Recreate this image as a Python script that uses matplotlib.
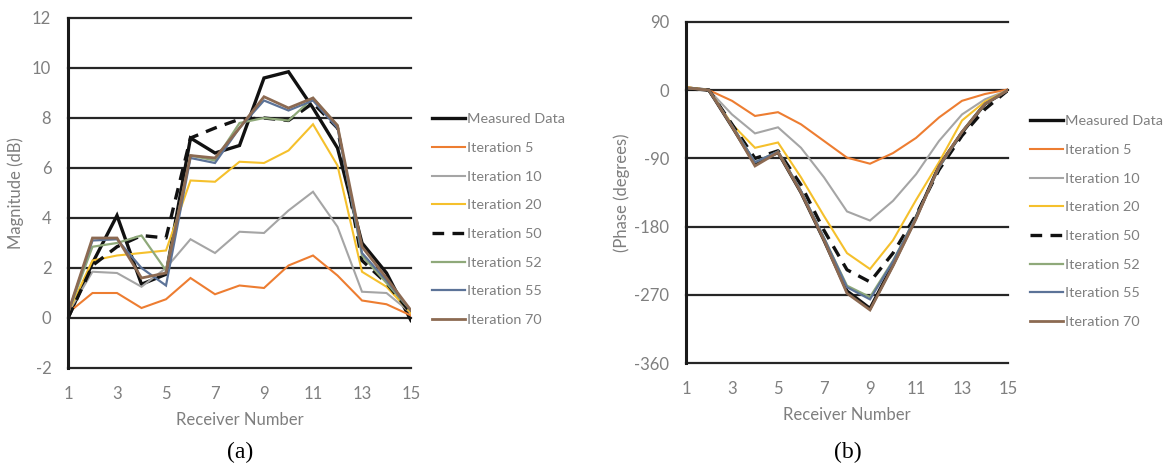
'''
Magnitude and phase per receiver, measured data vs. iterations
'''
import matplotlib
matplotlib.use('Agg')
import matplotlib.pyplot as plt

receivers = list(range(1, 16))

series_names = ['Measured Data', 'Iteration 5', 'Iteration 10', 'Iteration 20',
                'Iteration 50', 'Iteration 52', 'Iteration 55', 'Iteration 70']

# Magnitude (dB), panel (a)
mag_measured = [0.0, 2.2, 4.1, 1.35, 1.75, 7.2, 6.6, 6.9, 9.6, 9.85, 8.4, 6.8, 3.0, 1.8, -0.1]
mag_it5      = [0.2, 1.0, 1.0, 0.4, 0.75, 1.6, 0.95, 1.3, 1.2, 2.1, 2.5, 1.7, 0.7, 0.55, 0.1]
mag_it10     = [0.2, 1.85, 1.8, 1.25, 2.0, 3.15, 2.6, 3.45, 3.4, 4.3, 5.05, 3.65, 1.05, 1.0, 0.2]
mag_it20     = [0.2, 2.3, 2.5, 2.6, 2.7, 5.5, 5.45, 6.25, 6.2, 6.7, 7.75, 6.1, 1.85, 1.25, 0.2]
mag_it50     = [0.0, 2.1, 2.85, 3.3, 3.2, 7.2, 7.6, 7.95, 8.0, 7.9, 8.6, 7.6, 2.3, 1.4, 0.2]
mag_it52     = [0.2, 2.85, 3.0, 3.3, 1.9, 6.5, 6.3, 7.8, 8.0, 7.9, 8.8, 7.7, 2.5, 1.4, 0.3]
mag_it55     = [0.2, 3.1, 3.15, 2.0, 1.3, 6.4, 6.2, 7.6, 8.7, 8.3, 8.7, 7.6, 2.6, 1.5, 0.3]
mag_it70     = [0.2, 3.2, 3.2, 1.6, 1.8, 6.5, 6.4, 7.6, 8.85, 8.4, 8.8, 7.7, 2.85, 1.6, 0.3]

# Phase (degrees), panel (b)
ph_measured = [3, 0, -48, -97, -82, -135, -198, -265, -288, -230, -168, -100, -56, -18, 0]
ph_it5      = [4, 0, -14, -34, -29, -45, -67, -89, -97, -83, -63, -36, -14, -5, 1]
ph_it10     = [4, 0, -32, -57, -49, -76, -115, -160, -172, -146, -111, -67, -32, -12, 0]
ph_it20     = [4, 0, -45, -76, -69, -115, -166, -215, -236, -198, -145, -95, -40, -15, 0]
ph_it50     = [2, 0, -45, -90, -80, -125, -185, -237, -253, -215, -165, -105, -60, -25, 0]
ph_it52     = [3, 0, -47, -95, -81, -133, -195, -258, -273, -225, -168, -102, -55, -18, 0]
ph_it55     = [3, 0, -47, -95, -81, -133, -195, -260, -276, -226, -168, -102, -55, -18, 0]
ph_it70     = [3, 0, -48, -100, -82, -135, -198, -268, -290, -232, -170, -100, -55, -18, 0]

mag_series = [mag_measured, mag_it5, mag_it10, mag_it20, mag_it50, mag_it52, mag_it55, mag_it70]
ph_series  = [ph_measured, ph_it5, ph_it10, ph_it20, ph_it50, ph_it52, ph_it55, ph_it70]

styles = [
    dict(color='#111111', lw=2.4, ls='-'),
    dict(color='#ED7D31', lw=1.5, ls='-'),
    dict(color='#A5A5A5', lw=1.5, ls='-'),
    dict(color='#F5C02C', lw=1.5, ls='-'),
    dict(color='#111111', lw=2.4, ls=(0, (3.5, 2.5))),
    dict(color='#8FA97A', lw=1.6, ls='-'),
    dict(color='#5C7398', lw=1.6, ls='-'),
    dict(color='#8C6A52', lw=2.0, ls='-'),
]

plt.rcParams['axes.unicode_minus'] = False

TXT  = '#7F7F7F'
SANS = ['Lato', 'DejaVu Sans']

W, H = 1163, 474
fig = plt.figure(figsize=(W / 100, H / 100), dpi=100)
# ----------------------------
def _box(x0, x1, ytop, ybot):
    return [x0 / W, 1 - ybot / H, (x1 - x0) / W, (ybot - ytop) / H]
# ----------------------------
def _panel(rect, series, ylim, yticks, ylabel, ylabelpad, leg_xy):
    ax = fig.add_axes(rect)
    for vals, name, st in zip(series, series_names, styles):
        ax.plot(receivers, vals, label=name, color=st['color'], lw=st['lw'],
                linestyle=st['ls'], solid_joinstyle='miter')

    ax.set_xlim(1, 15)
    ax.set_ylim(*ylim)
    ax.set_xticks(range(1, 16, 2))
    ax.set_yticks(yticks)
    for y in yticks:
        ax.axhline(y, color='#262626', lw=1.6, zorder=0.5, clip_on=False)

    for side in ['top', 'right', 'bottom']:
        ax.spines[side].set_visible(False)
    ax.spines['left'].set_linewidth(2.2)
    ax.spines['left'].set_color('#1a1a1a')
    ax.tick_params(length=0, labelsize=12, labelcolor=TXT)
    ax.tick_params(axis='x', pad=13)
    ax.tick_params(axis='y', pad=12)
    for lab in ax.get_xticklabels() + ax.get_yticklabels():
        lab.set_family(SANS)

    ax.set_xlabel('Receiver Number', fontsize=12, color=TXT, family=SANS, labelpad=7)
    ax.set_ylabel(ylabel, fontsize=12, color=TXT, family=SANS, labelpad=ylabelpad)

    leg = ax.legend(loc='upper left', bbox_to_anchor=leg_xy, bbox_transform=fig.transFigure,
                    frameon=False, borderpad=0, borderaxespad=0, handlelength=2.3,
                    handletextpad=0.1, labelspacing=1.15, prop=dict(family=SANS, size=10.4))
    for t in leg.get_texts():
        t.set_color(TXT)
    return ax
# ----------------------------
_panel(_box(68, 411, 18, 368), mag_series, (-2, 12), list(range(-2, 13, 2)),
       'Magnitude (dB)', 6, (432 / W, 1 - 113 / H))
_panel(_box(686, 1008, 22, 363), ph_series, (-360, 90), list(range(-360, 91, 90)),
       '(Phase (degrees)', 3, (1030 / W, 1 - 115 / H))

fig.text(240 / W, 1 - 452 / H, '(a)', ha='center', va='center', fontsize=17,
         family='Liberation Serif')
fig.text(848 / W, 1 - 452 / H, '(b)', ha='center', va='center', fontsize=17,
         family='Liberation Serif')

fig.savefig('out.png', dpi=100)
